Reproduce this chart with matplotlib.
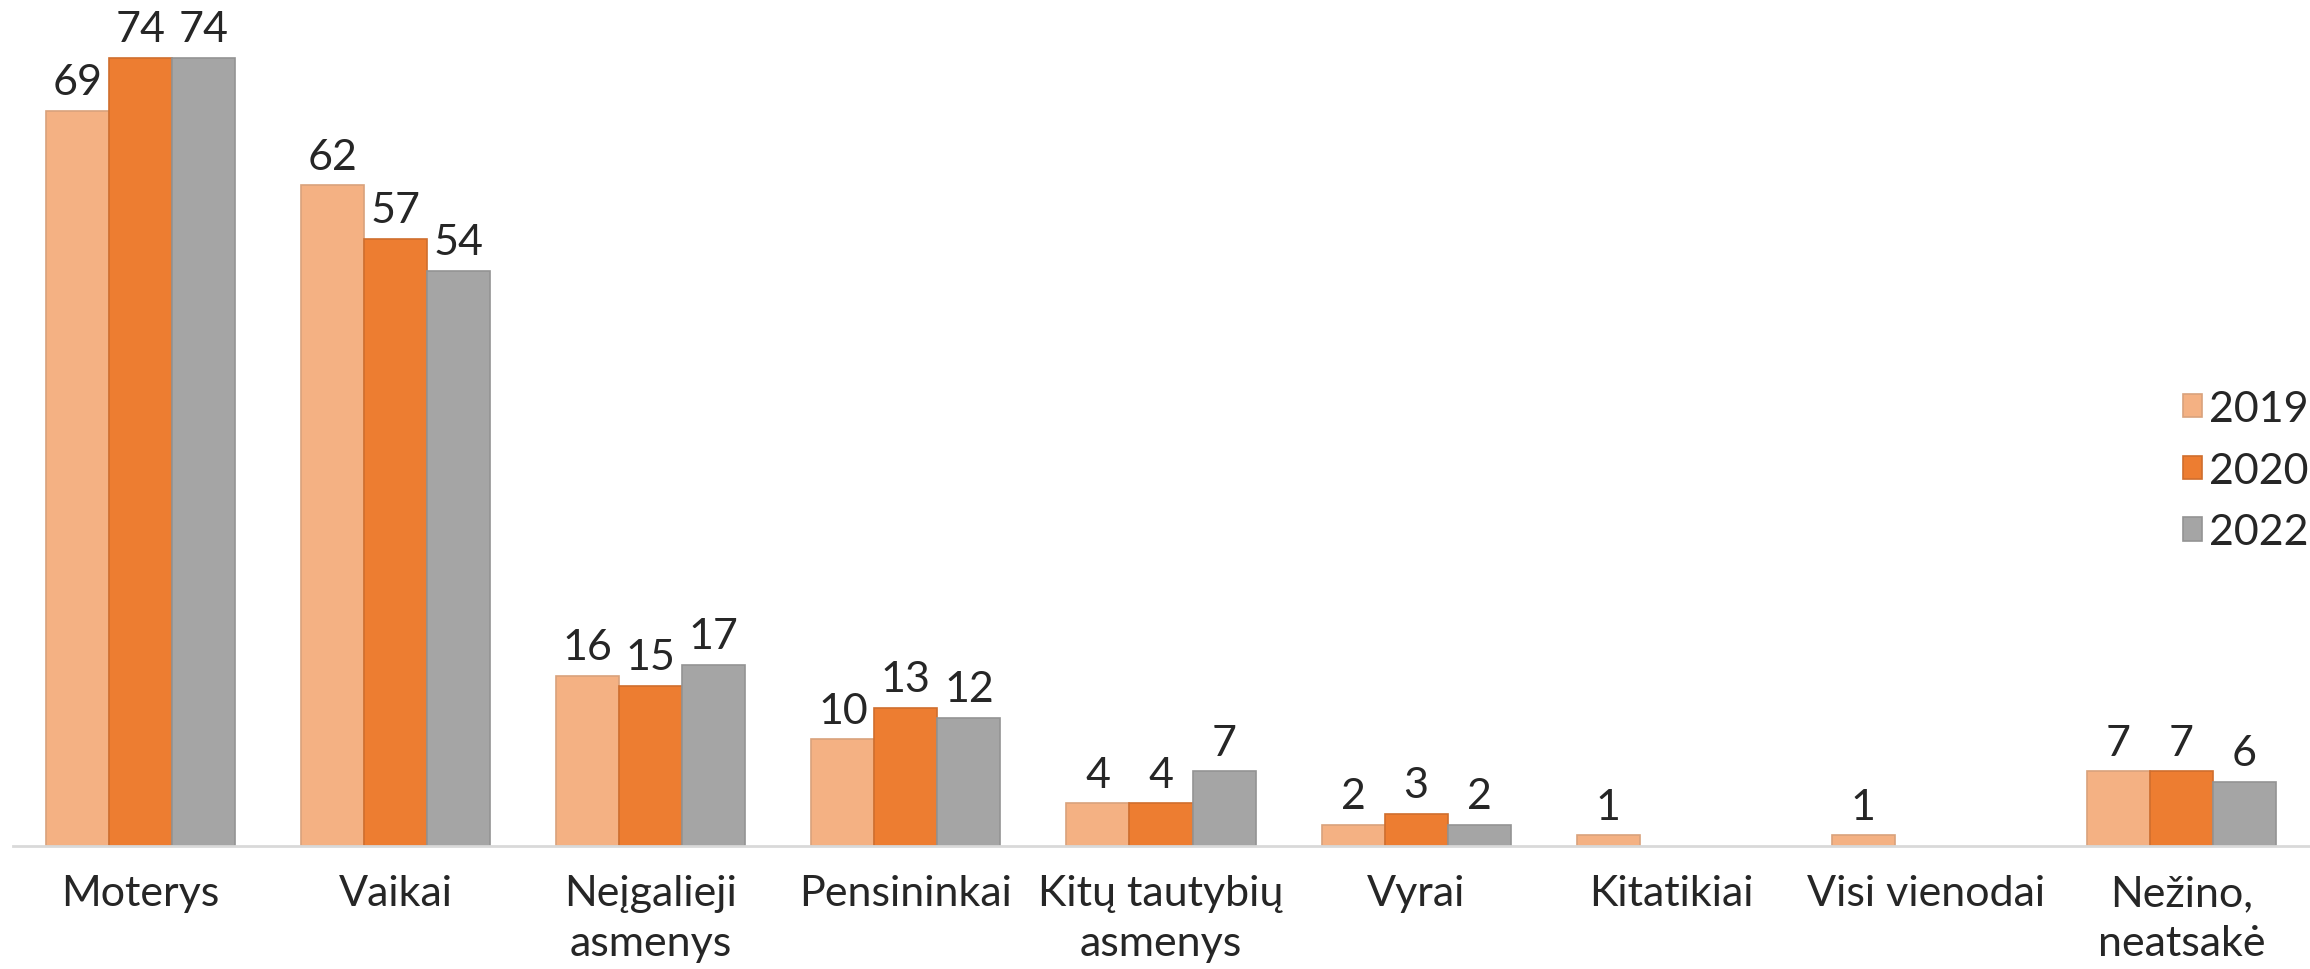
import numpy as np
import matplotlib
matplotlib.use("Agg")
import matplotlib.pyplot as plt

# data
categories = ["Moterys", "Vaikai", "Neįgalieji\nasmenys", "Pensininkai",
              "Kitų tautybių\nasmenys", "Vyrai", "Kitatikiai", "Visi vienodai",
              "Nežino,\nneatsakė"]
years = ["2019", "2020", "2022"]
v2019 = [69, 62, 16, 10, 4, 2, 1, 1, 7]
v2020 = [74, 57, 15, 13, 4, 3, np.nan, np.nan, 7]
v2022 = [74, 54, 17, 12, 7, 2, np.nan, np.nan, 6]

colors = ["#F4B183", "#ED7D31", "#A5A5A5"]
edges = ["#D9A27C", "#CF6E2E", "#939393"]

plt.rcParams['font.family'] = ['Lato', 'DejaVu Sans']

fig = plt.figure(figsize=(23.1, 9.7), dpi=100)
ax = fig.add_axes([0.0056, 0.1268, 0.994, 0.8732])

x = np.arange(len(categories))
w = 0.247
for i, (vals, yr) in enumerate(zip([v2019, v2020, v2022], years)):
    bars = ax.bar(x + (i - 1) * w, vals, width=w, color=colors[i],
                  edgecolor=edges[i], linewidth=1.2, label=yr)
    for b, v in zip(bars, vals):
        if np.isnan(v):
            continue
        ax.annotate(f"{v:g}", (b.get_x() + b.get_width() / 2, v),
                    xytext=(0, 7), textcoords="offset points",
                    ha="center", va="bottom", fontsize=31, color="#262626",
                    annotation_clip=False)

ax.set_xlim(-0.5, 8.5)
ax.set_ylim(0, 79.5)
ax.set_xticks(x)
ax.set_xticklabels(categories, fontsize=31, color="#262626", linespacing=1.4)
ax.tick_params(axis="x", length=0, pad=20)
ax.set_yticks([])
for s in ["top", "right", "left"]:
    ax.spines[s].set_visible(False)
ax.spines["bottom"].set_color("#D9D9D9")
ax.spines["bottom"].set_linewidth(2)

fig.legend(loc="upper left", bbox_to_anchor=(0.945, 0.597), frameon=False,
           fontsize=31, handlelength=0.45, handleheight=0.45, handletextpad=0.15,
           labelspacing=0.55, borderpad=0, borderaxespad=0, labelcolor="#262626")

fig.savefig("out.png", dpi=100)
